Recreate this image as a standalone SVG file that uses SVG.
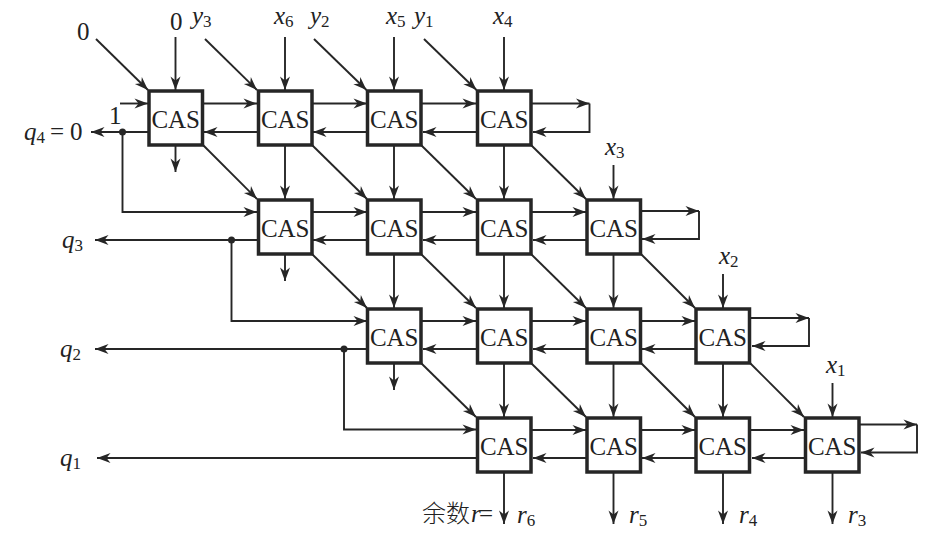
<svg xmlns="http://www.w3.org/2000/svg" width="952" height="543" viewBox="0 0 952 543">
<style>
.b{fill:#fff;stroke:#262626;stroke-width:3.5}
.c{font:25px "Liberation Serif",serif;fill:#222;text-anchor:middle}
.w{fill:none;stroke:#262626;stroke-width:1.9}
.a{marker-end:url(#h)}
.t{font-family:"Liberation Serif",serif;font-size:25px;fill:#222}
.i{font-style:italic}
.s{font-size:17px;font-style:normal}
.n{font-style:normal}
.z{font-family:"Noto Sans CJK SC",sans-serif;font-size:24px;font-weight:300;fill:#222}
</style>
<defs>
<marker id="h" markerUnits="userSpaceOnUse" markerWidth="16" markerHeight="12" viewBox="-14 -6 16 12" refX="0" refY="0" orient="auto" overflow="visible"><path d="M0,0L-13.500,-5L-9.500,0L-13.500,5Z" fill="#262626"/></marker>
</defs>
<g id="connectors">
<path class="w a" d="M96,39L148,90"/><path class="w a" d="M175.500,37V90"/><path class="w a" d="M205,39L257,90"/><path class="w a" d="M285,37V90"/><path class="w a" d="M314,39L366.500,90"/><path class="w a" d="M394,37V90"/><path class="w a" d="M424,39L476.500,90"/><path class="w a" d="M504,37V90"/>
<path class="w a" d="M613.500,165V199"/><path class="w a" d="M723,274V308"/><path class="w a" d="M832.500,383V417"/>
<path class="w a" d="M120,103.500H148"/>
<path class="w a" d="M203,103.500H257"/><path class="w a" d="M312,103.500H367"/><path class="w a" d="M421,103.500H476"/>
<path class="w a" d="M258,132H204"/><path class="w a" d="M367,132H313"/><path class="w a" d="M477,132H423"/>
<path class="w a" d="M531,103.500H589.500"/><path class="w a" d="M589.500,103.500V132H533"/>
<path class="w a" d="M312,212H367"/><path class="w a" d="M421,212H476"/><path class="w a" d="M531,212H586"/>
<path class="w a" d="M367,240H313"/><path class="w a" d="M477,240H423"/><path class="w a" d="M586,240H533"/>
<path class="w a" d="M641,211H699"/><path class="w a" d="M699,211V239H642"/>
<path class="w a" d="M422,321H476"/><path class="w a" d="M531,321H586"/><path class="w a" d="M641,321H695"/>
<path class="w a" d="M477,349H423"/><path class="w a" d="M586,349H533"/><path class="w a" d="M696,349H642"/>
<path class="w a" d="M750,318H809"/><path class="w a" d="M809,318V346H752"/>
<path class="w a" d="M531,430H586"/><path class="w a" d="M641,430H695"/><path class="w a" d="M750,430H804"/>
<path class="w a" d="M586,458H533"/><path class="w a" d="M696,458H642"/><path class="w a" d="M805,458H752"/>
<path class="w a" d="M860,424.500H917"/><path class="w a" d="M917,424.500V452.500H861"/>
<path class="w a" d="M175.500,145V172"/><path class="w a" d="M285,145V199"/><path class="w a" d="M394,145V199"/><path class="w a" d="M504,145V199"/>
<path class="w a" d="M285,254V281"/><path class="w a" d="M394,254V308"/><path class="w a" d="M504,254V308"/><path class="w a" d="M613.500,254V308"/>
<path class="w a" d="M394,363V390"/><path class="w a" d="M504,363V417"/><path class="w a" d="M613.500,363V417"/><path class="w a" d="M723,363V417"/>
<path class="w a" d="M504,472V524"/><path class="w a" d="M613.500,472V524"/><path class="w a" d="M723,472V524"/><path class="w a" d="M832.500,472V524"/>
<path class="w a" d="M203,145L257,199"/><path class="w a" d="M312,145L367,199"/><path class="w a" d="M421,145L476,199"/><path class="w a" d="M531,145L586,199"/>
<path class="w a" d="M312,254L367,308"/><path class="w a" d="M421,254L476,308"/><path class="w a" d="M531,254L586,308"/><path class="w a" d="M641,254L695,308"/>
<path class="w a" d="M421,363L476,417"/><path class="w a" d="M531,363L586,417"/><path class="w a" d="M641,363L695,417"/><path class="w a" d="M750,363L804,417"/>
<path class="w a" d="M149,132H91"/><path class="w a" d="M122.500,132V212H257"/><circle cx="122.500" cy="132" r="3.500" fill="#262626"/>
<path class="w a" d="M258,240H95"/><path class="w a" d="M231.500,240V321H367"/><circle cx="231.500" cy="240" r="3.500" fill="#262626"/>
<path class="w a" d="M367,349H95"/><path class="w a" d="M344,349V429.500H476"/><circle cx="344" cy="349" r="3.500" fill="#262626"/>
<path class="w a" d="M477,458H97"/>
</g>
<g id="n11"><rect class="b" x="149" y="91" width="53.500" height="54"/><text class="c" x="175.700" y="127.500">CAS</text></g>
<g id="n12"><rect class="b" x="258.500" y="91" width="53.500" height="54"/><text class="c" x="285.200" y="127.500">CAS</text></g>
<g id="n13"><rect class="b" x="367.500" y="91" width="53.500" height="54"/><text class="c" x="394.200" y="127.500">CAS</text></g>
<g id="n14"><rect class="b" x="477.500" y="91" width="53.500" height="54"/><text class="c" x="504.200" y="127.500">CAS</text></g>
<g id="n22"><rect class="b" x="258.500" y="200" width="53.500" height="54"/><text class="c" x="285.200" y="236.500">CAS</text></g>
<g id="n23"><rect class="b" x="367.500" y="200" width="53.500" height="54"/><text class="c" x="394.200" y="236.500">CAS</text></g>
<g id="n24"><rect class="b" x="477.500" y="200" width="53.500" height="54"/><text class="c" x="504.200" y="236.500">CAS</text></g>
<g id="n25"><rect class="b" x="587" y="200" width="53.500" height="54"/><text class="c" x="613.700" y="236.500">CAS</text></g>
<g id="n33"><rect class="b" x="367.500" y="309" width="53.500" height="54"/><text class="c" x="394.200" y="345.500">CAS</text></g>
<g id="n34"><rect class="b" x="477.500" y="309" width="53.500" height="54"/><text class="c" x="504.200" y="345.500">CAS</text></g>
<g id="n35"><rect class="b" x="587" y="309" width="53.500" height="54"/><text class="c" x="613.700" y="345.500">CAS</text></g>
<g id="n36"><rect class="b" x="696" y="309" width="53.500" height="54"/><text class="c" x="722.700" y="345.500">CAS</text></g>
<g id="n44"><rect class="b" x="477.500" y="418" width="53.500" height="54"/><text class="c" x="504.200" y="454.500">CAS</text></g>
<g id="n45"><rect class="b" x="587" y="418" width="53.500" height="54"/><text class="c" x="613.700" y="454.500">CAS</text></g>
<g id="n46"><rect class="b" x="696" y="418" width="53.500" height="54"/><text class="c" x="722.700" y="454.500">CAS</text></g>
<g id="n47"><rect class="b" x="805.500" y="418" width="53.500" height="54"/><text class="c" x="832.200" y="454.500">CAS</text></g>
<g id="labels">
<text class="t" x="77" y="40">0</text>
<text class="t" x="170" y="30">0</text>
<text class="t i" x="192" y="24">y<tspan class="s" dy="3">3</tspan></text>
<text class="t i" x="274" y="24">x<tspan class="s" dy="3">6</tspan></text>
<text class="t i" x="310" y="24">y<tspan class="s" dy="3">2</tspan></text>
<text class="t i" x="386" y="24">x<tspan class="s" dy="3">5</tspan></text>
<text class="t i" x="414" y="24">y<tspan class="s" dy="3">1</tspan></text>
<text class="t i" x="493" y="24">x<tspan class="s" dy="3">4</tspan></text>
<text class="t i" x="605" y="155">x<tspan class="s" dy="3">3</tspan></text>
<text class="t i" x="719" y="264">x<tspan class="s" dy="3">2</tspan></text>
<text class="t i" x="826" y="373">x<tspan class="s" dy="3">1</tspan></text>
<text class="t" x="109" y="124">1</text>
<text class="t i" x="24" y="140">q<tspan class="s" dy="3">4</tspan></text>
<text class="t" x="50" y="140">=</text>
<text class="t" x="70" y="140">0</text>
<text class="t i" x="62" y="248">q<tspan class="s" dy="3">3</tspan></text>
<text class="t i" x="60" y="357">q<tspan class="s" dy="3">2</tspan></text>
<text class="t i" x="60" y="466">q<tspan class="s" dy="3">1</tspan></text>
<text class="z" x="422" y="522">余数</text>
<text class="t i" x="471" y="522">r</text>
<text class="t" x="479" y="522">=</text>
<text class="t i" x="517" y="523">r<tspan class="s" dy="3">6</tspan></text>
<text class="t i" x="629" y="523">r<tspan class="s" dy="3">5</tspan></text>
<text class="t i" x="739" y="523">r<tspan class="s" dy="3">4</tspan></text>
<text class="t i" x="848" y="523">r<tspan class="s" dy="3">3</tspan></text>
</g>
</svg>
